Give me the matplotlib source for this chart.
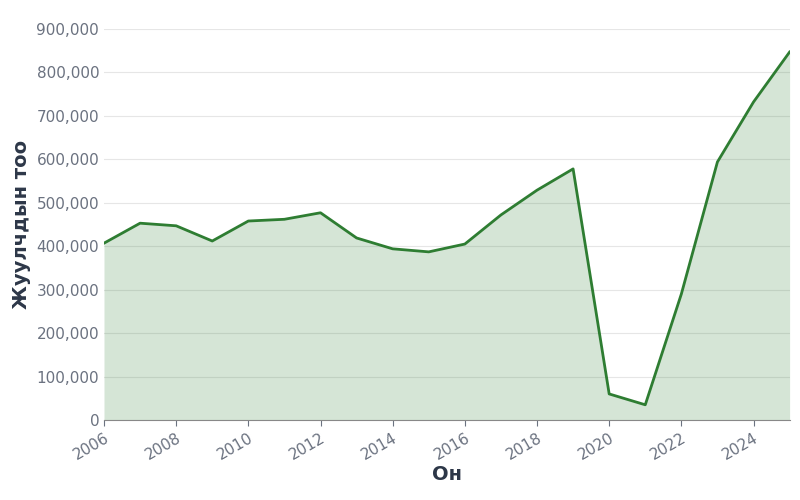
import matplotlib.pyplot as plt
from matplotlib.ticker import FuncFormatter

years = list(range(2006, 2026))
tourists = [407000, 453000, 447000, 412000, 458000, 462000, 477000, 419000, 394000, 387000,
            405000, 472000, 529000, 578000, 60000, 35000, 290000, 594000, 732000, 847000]

fig = plt.figure(figsize=(8, 5), dpi=100)
ax = fig.add_axes([0.13, 0.16, 0.857, 0.782])

ax.fill_between(years, tourists, 0, color="#2e7d32", alpha=0.2, linewidth=0)
ax.plot(years, tourists, color="#2e7d32", linewidth=2)

ax.set_xlim(2006, 2025)
ax.set_ylim(0, 900000)
ax.set_yticks(range(0, 900001, 100000))
ax.set_xticks(range(2006, 2025, 2))
ax.yaxis.set_major_formatter(FuncFormatter(lambda v, p: f"{int(v):,}"))
ax.grid(axis="y", color="#e6e6e6", linewidth=0.8)
ax.set_axisbelow(True)

for s in ["top", "right", "left"]:
    ax.spines[s].set_visible(False)
ax.spines["bottom"].set_color("#888888")
ax.tick_params(axis="y", length=0, colors="#6b7280", labelsize=11)
ax.tick_params(axis="x", colors="#6b7280", labelsize=11, length=4)
for lbl in ax.get_xticklabels():
    lbl.set_rotation(30)
    lbl.set_ha("right")
    lbl.set_rotation_mode("anchor")

ax.set_xlabel("Он", fontsize=14, fontweight="bold", color="#2d3748", labelpad=2)
ax.set_ylabel("Жуулчдын тоо", fontsize=14, fontweight="bold", color="#2d3748")

fig.savefig("out.png")
